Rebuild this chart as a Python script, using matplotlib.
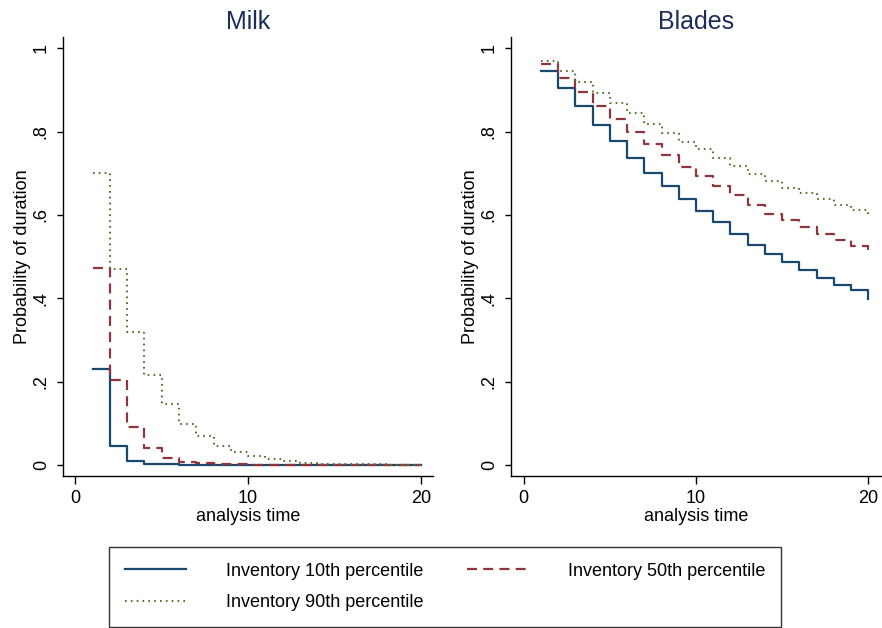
import matplotlib
matplotlib.use("Agg")
import matplotlib.pyplot as plt
import numpy as np

plt.rcParams['font.family'] = ['Liberation Sans', 'DejaVu Sans']

# analysis time
t = np.arange(1, 21)

# Milk: survival curves by inventory percentile
milk_p10 = [0.23, 0.045, 0.009, 0.003, 0.001, 0.0003, 0, 0, 0, 0,
            0, 0, 0, 0, 0, 0, 0, 0, 0, 0]
milk_p50 = [0.473, 0.204, 0.090, 0.040, 0.016, 0.007, 0.004, 0.002, 0.001, 0.0005,
            0.0002, 0, 0, 0, 0, 0, 0, 0, 0, 0]
milk_p90 = [0.70, 0.471, 0.319, 0.215, 0.147, 0.099, 0.069, 0.046, 0.030, 0.020,
            0.013, 0.008, 0.005, 0.003, 0.002, 0.001, 0.001, 0.0005, 0.0003, 0.0002]

# Blades
blades_p10 = [0.947, 0.906, 0.862, 0.817, 0.778, 0.738, 0.702, 0.670, 0.638, 0.610,
              0.583, 0.555, 0.528, 0.506, 0.486, 0.468, 0.449, 0.433, 0.419, 0.398]
blades_p50 = [0.962, 0.930, 0.895, 0.862, 0.830, 0.800, 0.770, 0.744, 0.716, 0.694,
              0.670, 0.647, 0.623, 0.603, 0.587, 0.572, 0.554, 0.539, 0.526, 0.510]
blades_p90 = [0.970, 0.946, 0.919, 0.893, 0.868, 0.844, 0.819, 0.798, 0.776, 0.758,
              0.738, 0.718, 0.698, 0.682, 0.666, 0.652, 0.638, 0.625, 0.612, 0.598]

labels = ['Inventory 10th percentile', 'Inventory 50th percentile', 'Inventory 90th percentile']
titles = ['Milk', 'Blades']
yticks = [0, 0.2, 0.4, 0.6, 0.8, 1]
yticklabels = ['0', '.2', '.4', '.6', '.8', '1']
xticks = [0, 10, 20]

navy = '#1a476f'
maroon = '#90353b'
green = '#55752f'

W, H = 882, 628
fig = plt.figure(figsize=(8.82, 6.28), dpi=100)

ax1 = fig.add_axes([63 / W, 152 / H, 370 / W, 439 / H])
ax2 = fig.add_axes([511 / W, 152 / H, 371 / W, 439 / H])

panels = [(ax1, [milk_p10, milk_p50, milk_p90], (-0.71, 20.69)),
          (ax2, [blades_p10, blades_p50, blades_p90], (-0.73, 20.79))]

handles = None
for (ax, series, xl), title in zip(panels, titles):
    l1, = ax.step(t, series[0], where='post', color=navy, lw=1.6)
    l2, = ax.step(t, series[1], where='post', color=maroon, lw=1.6,
                  linestyle=(0, (4.5, 2.8)))
    l3, = ax.step(t, series[2], where='post', color=green, lw=1.5,
                  linestyle=(0, (0.8, 2.0)))
    handles = [l1, l2, l3]
    ax.set_xlim(*xl)
    ax.set_ylim(-0.027, 1.0276)
    ax.set_yticks(yticks)
    ax.set_yticklabels(yticklabels, rotation=90, va='center')
    ax.set_xticks(xticks)
    for s in ['top', 'right']:
        ax.spines[s].set_visible(False)
    ax.spines['left'].set_linewidth(1.0)
    ax.spines['bottom'].set_linewidth(1.0)
    ax.tick_params(axis='y', length=4.5, width=1.0, labelsize=13, pad=5)
    ax.tick_params(axis='x', length=6, width=1.0, labelsize=13, pad=4)
    ax.set_xlabel('analysis time', fontsize=13, labelpad=1)
    ax.set_ylabel('Probability of duration', fontsize=13, labelpad=1)
    ax.set_title(title, fontsize=18, color='#1c2d5c', pad=6)

# row-major order: 10th, 50th on first row, 90th on second
order = [0, 2, 1]
leg = fig.legend([handles[i] for i in order], [labels[i] for i in order],
                 loc='center', bbox_to_anchor=(445 / W, 1 - 587 / H),
                 ncol=2, fontsize=13, frameon=True, fancybox=False,
                 handlelength=3.4, handletextpad=2.2, columnspacing=2.4,
                 labelspacing=0.8, borderpad=0.85)
leg.get_frame().set_edgecolor('black')
leg.get_frame().set_linewidth(1.0)

fig.savefig('out.png', dpi=100, facecolor='white')
